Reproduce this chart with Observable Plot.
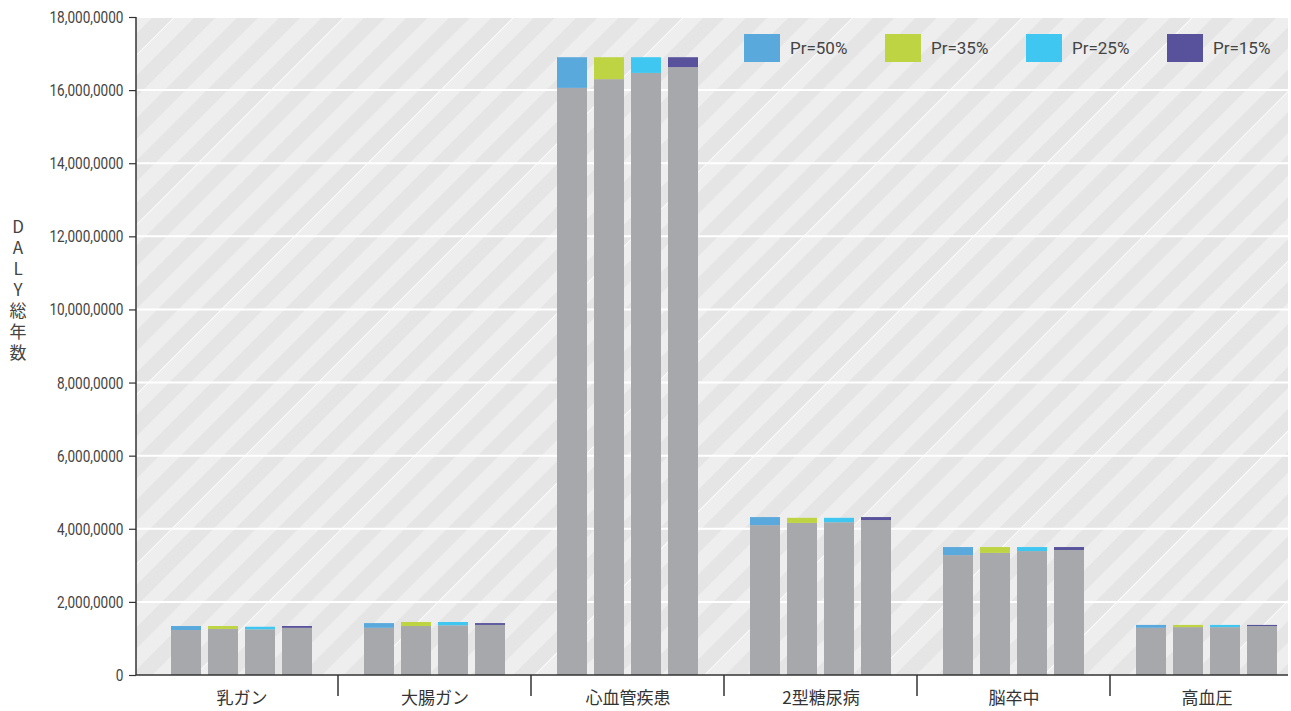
<!DOCTYPE html>
<html><head><meta charset="utf-8">
<script src="https://cdn.jsdelivr.net/npm/d3@7"></script>
<script src="https://cdn.jsdelivr.net/npm/@observablehq/plot@0.6"></script>
<style>
body{margin:0;background:#fff;}
#wrap{position:relative;width:1291px;height:711px;overflow:hidden;}
.legend{position:absolute;top:34px;left:744px;display:flex;font-family:Roboto,"Noto Sans",sans-serif;font-size:17px;color:#444;}
.item{display:flex;align-items:center;width:141px;}
.sw{width:36px;height:28px;margin-right:10px;}
</style></head><body><div id="wrap"></div>
<script>
const categories = ["乳ガン", "大腸ガン", "心血管疾患", "2型糖尿病", "脳卒中", "高血圧"];
const seriesNames = ["Pr=50%", "Pr=35%", "Pr=25%", "Pr=15%"];
const seriesColors = ["#5aa9dd", "#bed442", "#3fc7f2", "#57529b"];
const baseColor = "#a7a8ab";
const yTicks = [0, 2000000, 4000000, 6000000, 8000000, 10000000, 12000000, 14000000, 16000000, 18000000];
const yTickLabels = ["0", "2,000,0000", "4,000,0000", "6,000,0000", "8,000,0000", "10,000,0000", "12,000,0000", "14,000,0000", "16,000,0000", "18,000,0000"];
const yLabel = "DALY総年数";

// gray base (per category) and colored top for each scenario
const baseP50 = [1230000, 1290000, 16060000, 4100000, 3280000, 1290000];
const topP50  = [1340000, 1420000, 16900000, 4320000, 3500000, 1370000];
const baseP35 = [1260000, 1340000, 16300000, 4160000, 3340000, 1310000];
const topP35  = [1340000, 1450000, 16900000, 4300000, 3500000, 1370000];
const baseP25 = [1250000, 1360000, 16470000, 4180000, 3390000, 1310000];
const topP25  = [1320000, 1450000, 16900000, 4300000, 3500000, 1370000];
const baseP15 = [1290000, 1370000, 16630000, 4240000, 3420000, 1340000];
const topP15  = [1340000, 1420000, 16900000, 4320000, 3500000, 1370000];

const bases = [baseP50, baseP35, baseP25, baseP15];
const tops = [topP50, topP35, topP25, topP15];
const data = [];
categories.forEach((c, i) => seriesNames.forEach((s, j) => data.push({cat: c, series: s, base: bases[j][i], top: tops[j][i]})));

const W = 1291, H = 711;
const plotLeft = 136, plotRight = 1288, plotTop = 17, plotBottom = 675;
const facetStart = 145, facetEnd = 1303;

const plot = Plot.plot({
  width: W, height: H,
  marginLeft: facetStart, marginRight: W - facetEnd, marginTop: plotTop, marginBottom: H - plotBottom,
  style: {fontFamily: '"Noto Sans CJK JP",sans-serif', background: "transparent", color: "#333", overflow: "visible"},
  fx: {domain: categories, padding: 0, label: null},
  x: {domain: seriesNames, paddingInner: 0.19, paddingOuter: 0.69, axis: null},
  y: {domain: [0, 18000000], label: null},
  color: {domain: seriesNames, range: seriesColors},
  marks: [
    Plot.barY(data, {fx: "cat", x: "series", y1: () => 0, y2: "base", fill: baseColor}),
    Plot.barY(data, {fx: "cat", x: "series", y1: "base", y2: "top", fill: "series"}),
    Plot.axisY({ticks: yTicks, tickFormat: d => yTickLabels[yTicks.indexOf(d)], tickSize: 7, tickPadding: 6, dx: plotLeft - facetStart, fontSize: 17, fontFamily: 'Roboto,sans-serif', fill: "#444", stroke: "#333", strokeWidth: 1.2, label: null}),
    Plot.axisFx({anchor: "bottom", tickSize: 0, tickPadding: 16, fontSize: 17, fill: "#333", label: null})
  ]
});

const svg = d3.select(plot);
const y = plot.scale("y");
const fx = plot.scale("fx");

// condense the y tick labels like the reference's narrow face
svg.selectAll('g[aria-label="y-axis tick label"] text').each(function() {
  const t = this.getAttribute("transform") || "";
  this.setAttribute("transform", t + " scale(0.8,1)");
});

// background
const defs = svg.insert("defs", ":first-child");
const P = 30;
const pat = defs.append("pattern").attr("id", "stripes").attr("patternUnits", "userSpaceOnUse")
  .attr("width", 4 * P).attr("height", 4 * P).attr("patternTransform", "rotate(45)");
pat.append("rect").attr("width", 4 * P).attr("height", 4 * P).attr("fill", "#eeeeee");
[0, 1, 2, 3].forEach(k => pat.append("rect").attr("x", k * P).attr("width", P / 2).attr("height", 4 * P).attr("fill", "#e5e5e5"));
pat.append("rect").attr("x", P / 2).attr("width", 0.8).attr("height", 4 * P).attr("fill", "#ffffff");

const bg = svg.insert("g", "defs + *");
bg.append("rect").attr("x", plotLeft).attr("y", plotTop).attr("width", plotRight - plotLeft).attr("height", plotBottom - plotTop).attr("fill", "url(#stripes)");
yTicks.slice(1).forEach(t => bg.append("line").attr("x1", plotLeft).attr("x2", plotRight).attr("y1", y.apply(t)).attr("y2", y.apply(t)).attr("stroke", "#fff").attr("stroke-width", 2));

// axis lines and group separators
const fg = svg.append("g").attr("stroke", "#333");
fg.append("line").attr("x1", plotLeft).attr("x2", plotLeft).attr("y1", y.apply(18000000)).attr("y2", y.apply(0)).attr("stroke-width", 1.5);
fg.append("line").attr("x1", plotLeft).attr("x2", plotRight).attr("y1", y.apply(0)).attr("y2", y.apply(0)).attr("stroke-width", 1.5);
categories.slice(1).forEach(c => {
  const xs = fx.apply(c);
  fg.append("line").attr("x1", xs).attr("x2", xs).attr("y1", y.apply(0)).attr("y2", y.apply(0) + 21).attr("stroke-width", 1.5);
});

// y label
svg.append("text").attr("x", 18).attr("y", 292).attr("text-anchor", "middle")
  .style("writing-mode", "vertical-rl").style("text-orientation", "upright")
  .attr("font-size", 17).attr("letter-spacing", 4).attr("fill", "#444")
  .attr("font-family", '"Noto Sans CJK JP",sans-serif').text(yLabel);

const wrap = document.getElementById("wrap");
wrap.appendChild(plot);
const legend = document.createElement("div");
legend.className = "legend";
seriesNames.forEach((s, i) => {
  const it = document.createElement("div"); it.className = "item";
  const sw = document.createElement("div"); sw.className = "sw"; sw.style.background = seriesColors[i];
  const tx = document.createElement("span"); tx.textContent = s;
  it.appendChild(sw); it.appendChild(tx); legend.appendChild(it);
});
wrap.appendChild(legend);
</script>
</body></html>
